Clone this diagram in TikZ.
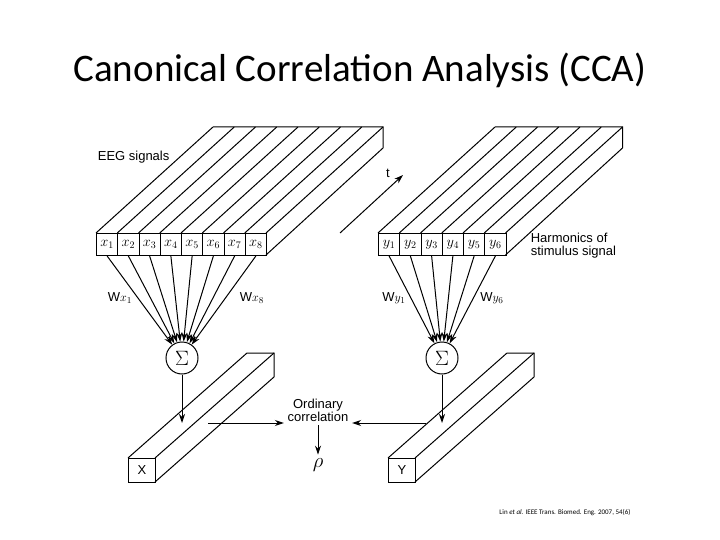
\documentclass[tikz,border=0pt]{standalone}
\usepackage{fontspec}
\setmainfont{Liberation Sans}
\newfontfamily\titlefont{Carlito}
\usetikzlibrary{arrows.meta}
\begin{document}
\begin{tikzpicture}[x=1pt,y=-1pt,line width=1pt,
  cell/.style={draw,minimum width=21.25pt,minimum height=22pt,inner sep=0pt,anchor=north west,font=\fontsize{14}{16}\selectfont},
  arr/.style={-{Stealth[length=9pt,width=6pt]}},
  lab/.style={font=\fontsize{13}{15}\selectfont,align=left}]
\useasboundingbox (0,0) rectangle (720,540);
\node[font=\titlefont\fontsize{39}{46}\selectfont] (title) at (360,70) {Canonical Correlation Analysis (CCA)};
% EEG block
\def\dx{117}\def\dy{-106}
\foreach \i in {0,...,8}{\draw (96+21.25*\i,233) -- ++(\dx,\dy);}
\draw (96+\dx,233+\dy) -- (266+\dx,233+\dy) -- ++(0,21) -- (266,255);
\foreach \i in {1,...,8}{\node[cell] (x\i) at (96+21.25*\i-21.25,233) {$x_{\i}$};}
% Y block
\foreach \i in {0,...,6}{\draw (378+21.25*\i,233) -- ++(\dx,\dy);}
\draw (378+\dx,233+\dy) -- (505.5+\dx,233+\dy) -- ++(0,21) -- (505.5,255);
\foreach \i in {1,...,6}{\node[cell] (y\i) at (378+21.25*\i-21.25,233) {$y_{\i}$};}
% sums
\node[draw,circle,minimum size=32pt,inner sep=0pt,font=\fontsize{22}{24}\selectfont] (sx) at (182,358) {$\Sigma$};
\node[draw,circle,minimum size=32pt,inner sep=0pt,font=\fontsize{22}{24}\selectfont] (sy) at (442,358) {$\Sigma$};
\foreach \i in {1,...,8}{\draw[arr] (x\i.south) -- (sx);}
\foreach \i in {1,...,6}{\draw[arr] (y\i.south) -- (sy);}
\node[lab] (wx1) at (120,298) {W$x_1$};
\node[lab] (wx8) at (252,298) {W$x_8$};
\node[lab] (wy1) at (394,298) {W$y_1$};
\node[lab] (wy6) at (492,298) {W$y_6$};
\node[lab,anchor=west] (eeg) at (94,157) {EEG signals};
\node[lab,anchor=west] (harm) at (527,246) {Harmonics of\\[-2pt]stimulus signal};
\coordinate (t0) at (340,233); \coordinate (t1) at (403,175);
\draw[arr] (t0) -- (t1);
\node[lab] (tl) at (388,173) {t};
% bars
\def\bx{119}\def\by{-105}
\draw (128,458) -- ++(\bx,\by) -- (155+\bx,458+\by) -- ++(0,24) -- (155,482);
\draw (155,458) -- ++(\bx,\by);
\node[draw,minimum width=27pt,minimum height=24pt,inner sep=0pt,anchor=north west,font=\fontsize{13}{15}\selectfont] (X) at (128,458) {X};
\draw (388,458) -- ++(\bx,\by) -- (415+\bx,458+\by) -- ++(0,24) -- (415,482);
\draw (415,458) -- ++(\bx,\by);
\node[draw,minimum width=27pt,minimum height=24pt,inner sep=0pt,anchor=north west,font=\fontsize{13}{15}\selectfont] (Y) at (388,458) {Y};
\coordinate (px) at (182,423); \coordinate (py) at (442,423);
\draw[arr] (sx) -- (px);
\draw[arr] (sy) -- (py);
\node[lab,align=center] (oc) at (318,410) {Ordinary\\[-2pt]correlation};
\coordinate (ax0) at (208,423); \coordinate (ay0) at (426,423);
\draw[arr] (ax0) -- (oc.west |- ax0);
\draw[arr] (ay0) -- (oc.east |- ay0);
\node[font=\fontsize{22}{24}\selectfont] (rho) at (318,465) {$\rho$};
\draw[arr] (oc.south) -- (rho.north);
\node[font=\titlefont\fontsize{7}{8}\selectfont] (cit) at (565,513) {Lin \textit{et al.} IEEE Trans. Biomed. Eng. 2007, 54(6)};
\end{tikzpicture}
\end{document}
